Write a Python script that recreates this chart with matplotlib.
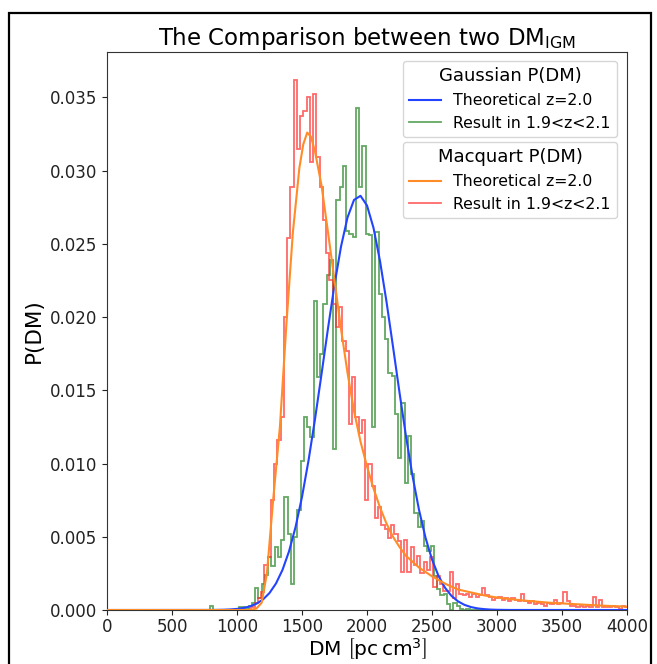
import numpy as np
import matplotlib
matplotlib.use("Agg")
import matplotlib.pyplot as plt
from matplotlib.patches import Rectangle

# ---- theoretical curves: DM [pc cm^3] vs P(DM) ----
gauss_dm = [0, 800, 850, 900, 950, 1000, 1050, 1100, 1150, 1200, 1250, 1300,
            1350, 1400, 1450, 1500, 1550, 1600, 1650, 1700, 1750, 1800, 1850,
            1900, 1950, 2000, 2050, 2100, 2150, 2200, 2250, 2300, 2350, 2400,
            2450, 2500, 2550, 2600, 2650, 2700, 2750, 2800, 2850, 2900, 2950,
            3000, 3100, 4000]
gauss_p = [0.0, 0.000005, 0.00001, 0.00002, 0.00004, 0.000075, 0.000139,
           0.000249, 0.00043, 0.000718, 0.001161, 0.001813, 0.00274, 0.0040,
           0.00565, 0.00772, 0.0102, 0.01303, 0.0161, 0.01923, 0.02221,
           0.02481, 0.0268, 0.028, 0.02828, 0.02762, 0.02609, 0.02383, 0.02105,
           0.01798, 0.01485, 0.01186, 0.00916, 0.00684, 0.00494, 0.00345,
           0.00233, 0.00152, 0.00096, 0.00059, 0.00035, 0.0002, 0.00011,
           0.00006, 0.00003, 0.000015, 0.000003, 0.0]

macq_dm = [0, 1100, 1150, 1190, 1230, 1280, 1330, 1380, 1430, 1480, 1510, 1540,
           1570, 1600, 1650, 1700, 1750, 1800, 1850, 1900, 1950, 2000, 2050,
           2100, 2150, 2200, 2250, 2300, 2400, 2500, 2600, 2700, 2800, 2900,
           3000, 3200, 3400, 3600, 3800, 4000]
macq_p = [0.0, 0.0, 0.0001, 0.0005, 0.0025, 0.0077, 0.0125, 0.0195, 0.0258,
          0.0302, 0.0318, 0.0326, 0.0323, 0.0313, 0.029, 0.0258, 0.0225,
          0.0192, 0.0162, 0.0136, 0.0115, 0.0098, 0.0083, 0.007, 0.0059,
          0.005, 0.0043, 0.0037, 0.0029, 0.0023, 0.0018, 0.0014, 0.0012,
          0.001, 0.00085, 0.00065, 0.0005, 0.0004, 0.0003, 0.00023]

# ---- simulated samples in 1.9 < z < 2.1, binned (probability per bin) ----
bin_width = 25

gauss_hist_start = 790
gauss_hist = [0.0003, 0, 0, 0, 0, 0, 0, 0, 0.0001, 0.0002, 0.0002, 0.0001,
              0.0003, 0.0005, 0.0015, 0.0008, 0.0018, 0.0024, 0.0036, 0.0030,
              0.0043, 0.0036, 0.0048, 0.0077, 0.0052, 0.0018, 0.0050, 0.0068,
              0.0102, 0.0132, 0.0125, 0.0118, 0.0211, 0.0159, 0.0175, 0.0209,
              0.0229, 0.0239, 0.0110, 0.0280, 0.0289, 0.0303, 0.0259, 0.0257,
              0.0255, 0.0343, 0.0289, 0.0317, 0.0257, 0.0256, 0.0125, 0.0258,
              0.0216, 0.0200, 0.0185, 0.0162, 0.0160, 0.0134, 0.0104, 0.0141,
              0.0087, 0.0119, 0.0093, 0.0066, 0.0057, 0.0061, 0.0044, 0.0040,
              0.0044, 0.0023, 0.0014, 0.0010, 0.0011, 0.0004, 0.0000, 0.0005,
              0.0003, 0.0001, 0.0000, 0.0001, 0.0000, 0.0000, 0.0001, 0.0000]

macq_hist_start = 1085
macq_hist = [0.0000, 0.0002, 0.0005, 0.0008, 0.0012, 0.0031, 0.0036, 0.0075,
             0.0100, 0.0116, 0.0132, 0.0200, 0.0254, 0.0289, 0.0362, 0.0315,
             0.0337, 0.0341, 0.0350, 0.0306, 0.0352, 0.0309, 0.0289, 0.0266,
             0.0244, 0.0225, 0.0209, 0.0193, 0.0207, 0.0184, 0.0177, 0.0127,
             0.0159, 0.0132, 0.0121, 0.0130, 0.0075, 0.0100, 0.0085, 0.0063,
             0.0070, 0.0058, 0.0055, 0.0049, 0.0058, 0.0052, 0.0047, 0.0026,
             0.0048, 0.0026, 0.0043, 0.0031, 0.0037, 0.0025, 0.0033, 0.0027,
             0.0036, 0.0016, 0.0023, 0.0018, 0.0013, 0.0013, 0.0026, 0.0008,
             0.0018, 0.0011, 0.0010, 0.0011, 0.0009, 0.0011, 0.0009, 0.0010,
             0.0015, 0.0010, 0.0009, 0.0007, 0.0008, 0.0009, 0.0007, 0.0008,
             0.0006, 0.0008, 0.0007, 0.0006, 0.0011, 0.0006, 0.0005, 0.0006,
             0.0004, 0.0005, 0.0004, 0.0003, 0.0005, 0.0004, 0.0007, 0.0004,
             0.0005, 0.0012, 0.0006, 0.0003, 0.0003, 0.0002, 0.0003, 0.0002,
             0.0003, 0.0002, 0.0009, 0.0002, 0.0007, 0.0002, 0.0002, 0.0002,
             0.0003, 0.0002, 0.0001, 0.0003, 0.0002]

x_ticks = [0, 500, 1000, 1500, 2000, 2500, 3000, 3500, 4000]
y_ticks = [0.0, 0.005, 0.010, 0.015, 0.020, 0.025, 0.030, 0.035]

fig = plt.figure(figsize=(6.57, 6.64), dpi=100)
ax = fig.add_axes([107 / 657, 54 / 664, 520 / 657, 558 / 664])

gauss_edges = gauss_hist_start + bin_width * np.arange(len(gauss_hist) + 1)
macq_edges = macq_hist_start + bin_width * np.arange(len(macq_hist) + 1)

l_gauss, = ax.plot(gauss_dm, gauss_p, color="#2244ff", lw=1.5,
                   label="Theoretical z=2.0", zorder=3)
h_gauss = ax.stairs(gauss_hist, gauss_edges, color="#2e8b2e", alpha=0.75,
                    lw=1.3, label="Result in 1.9<z<2.1", zorder=2)
l_macq, = ax.plot(macq_dm, macq_p, color="#ff8c26", lw=1.5,
                  label="Theoretical z=2.0", zorder=3)
h_macq = ax.stairs(macq_hist, macq_edges, color="#ff2a2a", alpha=0.7,
                   lw=1.3, label="Result in 1.9<z<2.1", zorder=2)

for side in ax.spines.values():
    side.set_edgecolor("#333333")

ax.set_xlim(0, 4000)
ax.set_ylim(0, 0.0381)
ax.set_xticks(x_ticks)
ax.set_yticks(y_ticks)
ax.tick_params(labelsize=12, colors="#222222")
ax.tick_params(axis="x", pad=2.5)
ax.set_title(r"The Comparison between two DM$_{\rm IGM}$", fontsize=16.5,
             pad=5)
ax.set_xlabel(r"DM $\left[\mathrm{pc\,cm^{3}}\right]$", fontsize=14.5,
              labelpad=0)
ax.set_ylabel("P(DM)", fontsize=15.5, labelpad=4)

leg1 = ax.legend(handles=[l_gauss, h_gauss], title="Gaussian P(DM)",
                 loc="upper right", bbox_to_anchor=(510 / 520, 549 / 558),
                 borderaxespad=0, fontsize=11.3, title_fontsize=13)
ax.add_artist(leg1)
ax.legend(handles=[l_macq, h_macq], title="Macquart P(DM)",
          loc="upper right", bbox_to_anchor=(510 / 520, 468 / 558),
          borderaxespad=0, fontsize=11.3, title_fontsize=13)

# outer frame around the whole figure
fig.add_artist(Rectangle((8.5 / 657, -0.05), 642 / 657, 1.05 - 12.5 / 664,
                         transform=fig.transFigure, fill=False,
                         edgecolor="black", lw=1.6, clip_on=False))

fig.savefig("out.png", dpi=100)
